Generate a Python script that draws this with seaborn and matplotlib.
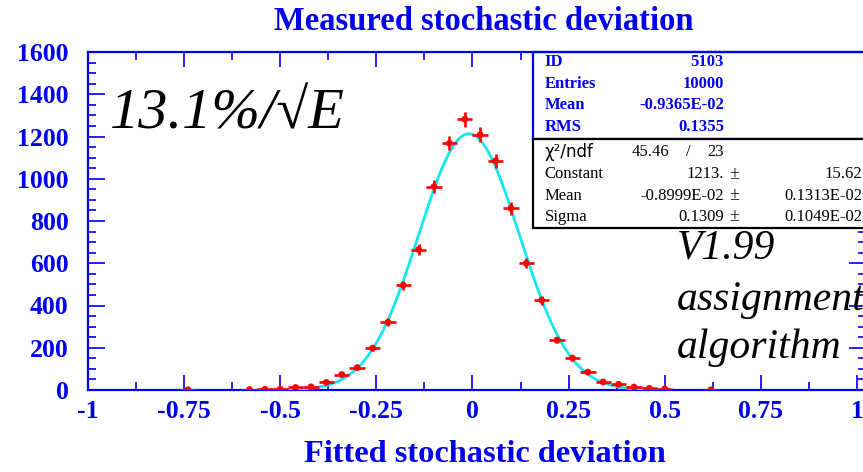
import numpy as np
import pandas as pd
import matplotlib
matplotlib.use("Agg")
import matplotlib.pyplot as plt
from matplotlib.patches import Rectangle
from matplotlib.ticker import MultipleLocator
import seaborn as sns

# Histogram of the fitted stochastic deviation (bin width 0.04)
bin_centers = [-0.74, -0.58, -0.54, -0.50, -0.46, -0.42, -0.38, -0.34, -0.30,
               -0.26, -0.22, -0.18, -0.14, -0.10, -0.06, -0.02, 0.02, 0.06,
               0.10, 0.14, 0.18, 0.22, 0.26, 0.30, 0.34, 0.38, 0.42, 0.46,
               0.50, 0.62]
counts = [1, 2, 3, 4, 12, 15, 36, 73, 106, 198, 321, 496, 665, 963, 1168,
          1282, 1208, 1085, 860, 600, 425, 236, 151, 85, 38, 27, 14, 8, 5, 1]
bin_width = 0.04

# Gaussian fit result
fit_constant = 1213.0
fit_mean = -0.8999e-02
fit_sigma = 0.1309
fit_range = (-0.5, 0.5)

x_ticks = [-1, -0.75, -0.5, -0.25, 0, 0.25, 0.5, 0.75, 1]
x_tick_labels = ["-1", "-0.75", "-0.5", "-0.25", "0", "0.25", "0.5", "0.75", "1"]
y_ticks = [0, 200, 400, 600, 800, 1000, 1200, 1400, 1600]

stats_labels = ["ID", "Entries", "Mean", "RMS"]
stats_values = ["5103", "10000", "-0.9365E-02", "0.1355"]
chi2_value = "45.46"
ndf_value = "23"
fit_labels = ["Constant", "Mean", "Sigma"]
fit_values = ["1213.", "-0.8999E-02", "0.1309"]
fit_errors = ["15.62", "0.1313E-02", "0.1049E-02"]

title = "Measured stochastic deviation"
xlabel = "Fitted stochastic deviation"
resolution_text = "13.1%/\u221aE"
version_lines = ["V1.99", "assignment", "algorithm"]

BLUE = "#0000f0"
RED = "#ff0000"
CYAN = "#14e6f0"
SERIF = ["Liberation Serif", "DejaVu Serif"]
BOX_FS = 12

sns.set_style("ticks")
plt.rcParams["font.family"] = SERIF

W, H = 863, 472
fig = plt.figure(figsize=(W / 100, H / 100), dpi=100)
ax_l, ax_r, ax_t, ax_b = 88, 866, 52, 390
ax = fig.add_axes([ax_l / W, 1 - ax_b / H, (ax_r - ax_l) / W, (ax_b - ax_t) / H])

df = pd.DataFrame({"x": bin_centers, "n": counts})
df["err"] = np.sqrt(df["n"])

# fitted gaussian
xs = np.linspace(fit_range[0], fit_range[1], 500)
fit_df = pd.DataFrame({
    "x": xs,
    "y": fit_constant * np.exp(-0.5 * ((xs - fit_mean) / fit_sigma) ** 2),
})
sns.lineplot(data=fit_df, x="x", y="y", color=CYAN, linewidth=2.0, ax=ax,
             zorder=3)

# histogram contents with bin-width and statistical error bars
ax.errorbar(df["x"], df["n"], xerr=bin_width / 2, yerr=df["err"], fmt="none",
            ecolor=RED, elinewidth=1.9, capsize=0, zorder=4)
sns.scatterplot(data=df, x="x", y="n", color=RED, s=24, edgecolor="none",
                ax=ax, zorder=5)

ax.set_xlim(-1, 1.0235)
ax.set_ylim(0, 1600)
ax.set_xticks(x_ticks, x_tick_labels)
ax.set_yticks(y_ticks, [str(v) for v in y_ticks])
ax.xaxis.set_minor_locator(MultipleLocator(0.125))
ax.yaxis.set_minor_locator(MultipleLocator(50))
ax.set_xlabel("")
ax.set_ylabel("")

for side in ["left", "right", "top", "bottom"]:
    ax.spines[side].set_visible(True)
    ax.spines[side].set_color(BLUE)
    ax.spines[side].set_linewidth(1.6)

ax.tick_params(axis="both", which="both", direction="in", color=BLUE,
               top=True, right=True, labelcolor=BLUE, width=1.2)
ax.tick_params(axis="x", which="major", length=11, pad=7, labelsize=18.5)
ax.tick_params(axis="x", which="minor", length=6)
ax.tick_params(axis="y", which="major", length=12, pad=14, labelsize=18.5)
ax.tick_params(axis="y", which="minor", length=6)
for lab in ax.get_xticklabels() + ax.get_yticklabels():
    lab.set_fontweight("bold")
    lab.set_fontfamily(SERIF)

# title and axis label
fig.text(484 / W, 1 - 21 / H, title, ha="center", va="center", color=BLUE,
         fontsize=23.5, fontweight="bold", family=SERIF)
fig.text(485 / W, 1 - 455 / H, xlabel, ha="center", va="center", color=BLUE,
         fontsize=23.3, fontweight="bold", family=SERIF)

# statistics box
box_x = 0.572
div_y = 0.7426
box_bot = 0.479
ax.add_patch(Rectangle((box_x, div_y), 0.5, 1 - div_y, transform=ax.transAxes,
                       facecolor="white", edgecolor=BLUE, linewidth=1.6,
                       clip_on=False, zorder=2))
ax.add_patch(Rectangle((box_x, box_bot), 0.5, div_y - box_bot,
                       transform=ax.transAxes, facecolor="white",
                       edgecolor="black", linewidth=1.6, clip_on=False,
                       zorder=2.1))

lab_x = 0.587
val_x = 0.8175
pm_x = 0.824
err_x = 0.995
stat_rows = [0.970, 0.905, 0.843, 0.778]
for lab, val, yy in zip(stats_labels, stats_values, stat_rows):
    ax.text(lab_x, yy, lab, transform=ax.transAxes, ha="left", va="center",
            color=BLUE, fontsize=BOX_FS, fontweight="bold", family=SERIF)
    ax.text(val_x, yy, val, transform=ax.transAxes, ha="right", va="center",
            color=BLUE, fontsize=BOX_FS, fontweight="bold", family=SERIF)

ax.text(lab_x, 0.704, "\u03c7\u00b2/ndf", transform=ax.transAxes, ha="left",
        va="center", color="black", fontsize=BOX_FS,
        family=["DejaVu Sans"])
ax.text(0.699, 0.704, chi2_value, transform=ax.transAxes, ha="left",
        va="center", color="black", fontsize=BOX_FS, family=SERIF)
ax.text(0.772, 0.704, "/", transform=ax.transAxes, ha="center",
        va="center", color="black", fontsize=BOX_FS, family=SERIF)
ax.text(val_x, 0.704, ndf_value, transform=ax.transAxes, ha="right",
        va="center", color="black", fontsize=BOX_FS, family=SERIF)

fit_rows = [0.639, 0.574, 0.512]
for lab, val, err, yy in zip(fit_labels, fit_values, fit_errors, fit_rows):
    ax.text(lab_x, yy, lab, transform=ax.transAxes, ha="left", va="center",
            color="black", fontsize=BOX_FS, family=SERIF)
    ax.text(val_x, yy, val, transform=ax.transAxes, ha="right", va="center",
            color="black", fontsize=BOX_FS, family=SERIF)
    ax.text(pm_x, yy, "\u00b1", transform=ax.transAxes, ha="left",
            va="center", color="black", fontsize=BOX_FS + 1, family=SERIF)
    ax.text(err_x, yy, err, transform=ax.transAxes, ha="right", va="center",
            color="black", fontsize=BOX_FS, family=SERIF)

# annotations
ax.text(0.028, 0.775, resolution_text, transform=ax.transAxes, ha="left",
        va="baseline", color="black", fontsize=42, style="italic",
        family=SERIF)
for txt, yy in zip(version_lines, [0.39, 0.237, 0.095]):
    ax.text(0.757, yy, txt, transform=ax.transAxes, ha="left",
            va="baseline", color="black", fontsize=30, style="italic",
            family=SERIF, clip_on=False)

fig.savefig("out.png", dpi=100, facecolor="white")
